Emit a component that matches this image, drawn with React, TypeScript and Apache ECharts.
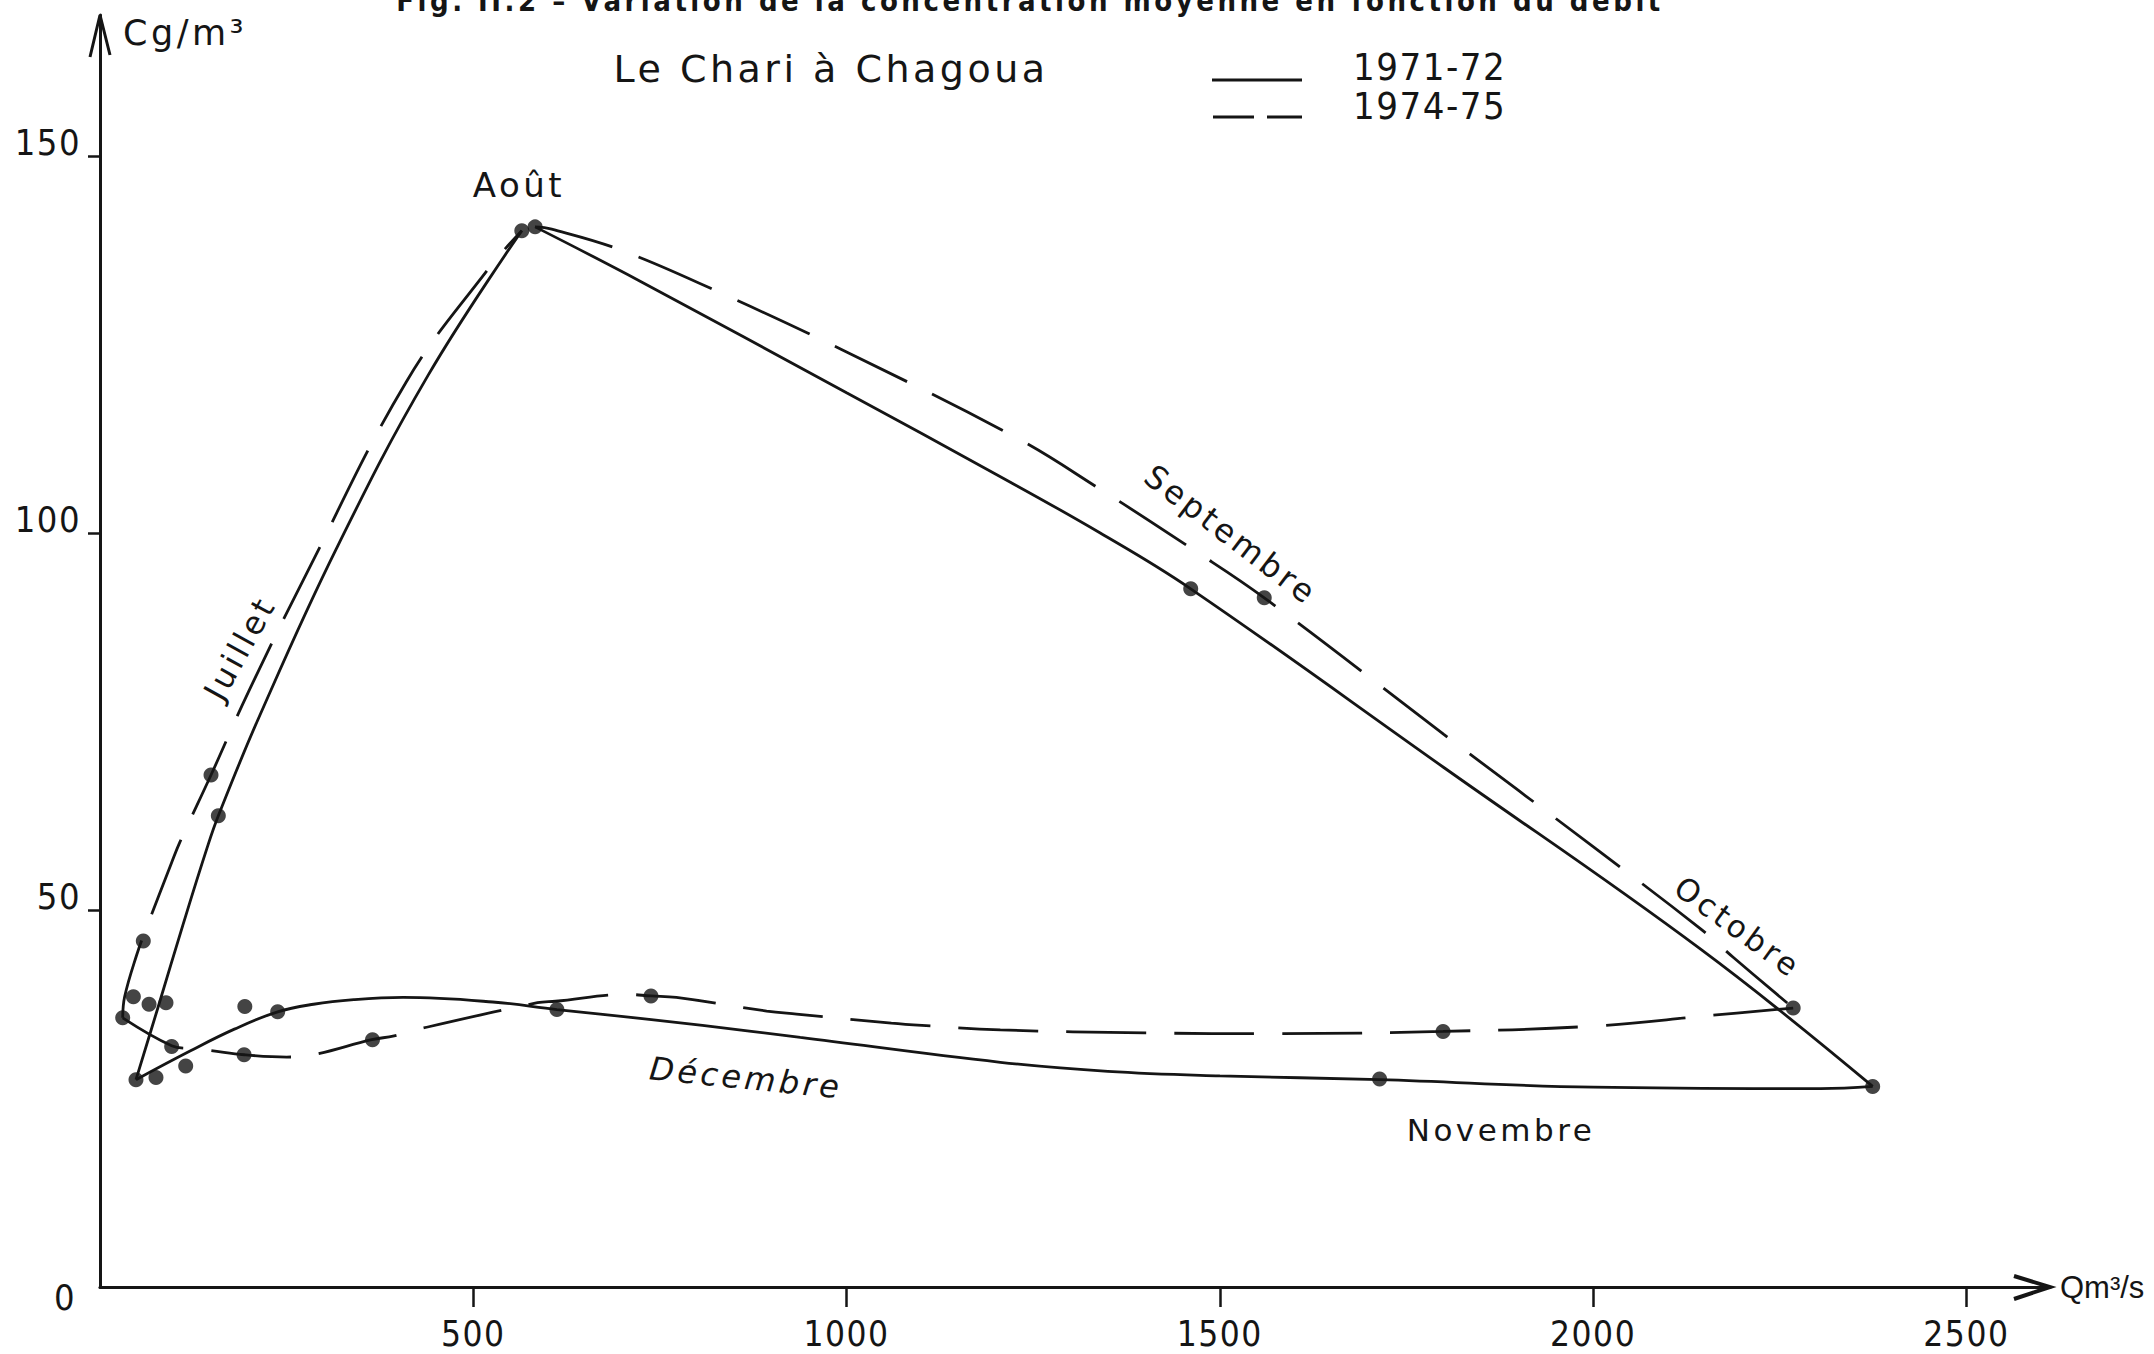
import React, { useEffect, useRef } from "react";
import * as echarts from "echarts";

// ---- tick labels ----
const xTicks = [500, 1000, 1500, 2000, 2500];
const yTicks = [50, 100, 150];

// ---- measured points (Q m3/s, C g/m3) ----
const dots: [number, number][] = [
  [565, 140.1], [582.8, 140.6], [1461, 92.6], [1559.5, 91.4], [2268, 37.0], [2374.5, 26.6],
  [1714, 27.6], [1799, 33.9], [738, 38.6], [612, 36.8], [365, 32.8], [238, 36.5], [193, 30.8],
  [194, 37.2], [114.8, 29.3], [96, 31.9], [88.4, 37.7], [65.7, 37.5], [44.7, 38.5], [30.4, 35.7],
  [48.2, 27.5], [75, 27.8], [58, 45.9], [158.5, 62.5], [148.7, 67.9],
];

// ---- 1971-72 curve (solid) ----
const solidJuly: [number, number][] = [
  [48.2, 27.5], [79, 37.5], [111, 48], [143, 58.1], [158.5, 62.5], [214, 75.8], [317, 98],
  [440, 121], [565, 140.1],
];
const solidSept: [number, number][] = [
  [582.8, 140.6], [723.5, 133.4], [1000, 118.6], [1200, 107.8], [1339.8, 100.0],
  [1461, 92.6], [1800, 68.9], [2144, 44.8], [2374.5, 26.6],
];
const solidReturn: [number, number][] = [
  [2374.5, 26.6], [2305, 26.3], [2000, 26.5], [1714, 27.5], [1500, 28.0], [1350, 28.6],
  [1206, 29.8], [938, 33.1], [807, 34.7], [670, 36.2], [612, 36.8], [526, 37.8], [406, 38.4],
  [340, 38.1], [286, 37.5], [238, 36.5], [180, 34.2], [120.6, 31.3], [48.2, 27.5],
];

// ---- 1974-75 curve (dashed) ----
const dashedJuly: [number, number][] = [
  [30.4, 35.7], [33, 38.5], [49, 44], [62.5, 47.7], [96, 56.3], [107, 59], [148.7, 67.9],
  [198.7, 78.9], [274.6, 94.2], [410, 120], [520, 135], [565, 140.1],
];
const dashedSept: [number, number][] = [
  [582.8, 140.6], [605, 140.3], [701, 137.4], [850, 131], [1000, 124],
  [1228, 112.6], [1339.8, 105.8], [1462.6, 97.9], [1559.5, 91.4], [1800, 73.3], [2000, 58.4],
  [2144, 47.5], [2188, 43.7], [2268, 37.0],
];
const dashedReturn: [number, number][] = [
  [2268, 37.0], [2156, 36.0], [2000, 34.6], [1799, 33.9], [1579, 33.6], [1400, 33.7],
  [1206, 34.1], [1101, 34.7], [1060, 35.0], [933, 36.2], [893, 36.6], [772, 38.4], [738, 38.6],
  [706, 38.8], [610, 37.9], [586, 37.7], [418, 34.0], [394, 33.3], [364, 32.8], [286, 30.8],
  [250, 30.5], [193, 30.8], [145, 31.4], [120.6, 31.6], [96, 32.0], [30.4, 35.7],
];

const FIG_TITLE = "Fig. II.2 – Variation de la concentration moyenne en fonction du débit";
const SUBTITLE = "Le Chari à Chagoua";
const LEGEND = ["1971-72", "1974-75"];

const W = 2154;
const H = 1354;
const GRID = { left: 100, right: 104, top: 15, bottom: 67 };
const X_MAX = 2612;
const Y_MAX = 168.7;

const css = `
#chartroot text[style*="DejaVu Sans"] { letter-spacing: 3.5px; }
#chartroot text[style*="Narrow"] { letter-spacing: 1.5px; }
`;

export default function App() {
  const ref = useRef<HTMLDivElement>(null);

  useEffect(() => {
    const chart = echarts.init(ref.current!, null, { renderer: "svg", width: W, height: H });
    const ink = "#151515";
    const wordFont = "'DejaVu Sans'";
    const numFont = "'Liberation Sans Narrow', 'DejaVu Sans Condensed'";

    const lineSeries = (name: string, data: [number, number][], dashed: boolean) => ({
      type: "line",
      name,
      data,
      smooth: 0.4,
      symbol: "none",
      showSymbol: false,
      silent: true,
      clip: false,
      lineStyle: { color: ink, width: 2.8, type: dashed ? [80, 28] : "solid", cap: "butt" },
      z: 2,
    });

    const ox = GRID.left;
    const oy = H - GRID.bottom;
    const xEnd = W - GRID.right;
    const yEnd = GRID.top;

    const word = (text: string, x: number, y: number, fontSize: number, rotation = 0, extra: any = {}) => ({
      type: "text",
      x,
      y,
      rotation,
      z: 10,
      style: {
        text,
        fontSize,
        fontFamily: wordFont,
        fill: ink,
        align: "center",
        verticalAlign: "middle",
        ...extra,
      },
    });

    const option: any = {
      animation: false,
      backgroundColor: "#ffffff",
      grid: { ...GRID, containLabel: false, outerBoundsMode: "none" },
      xAxis: {
        type: "value",
        min: 0,
        max: X_MAX,
        axisLine: { show: true, onZero: false, lineStyle: { color: ink, width: 3.2 } },
        axisTick: { show: true, customValues: xTicks, length: 20, lineStyle: { color: ink, width: 2.5 } },
        axisLabel: {
          show: true,
          customValues: xTicks,
          margin: 29,
          fontSize: 35,
          fontFamily: numFont,
          color: ink,
          formatter: (v: number) => String(v),
        },
        splitLine: { show: false },
        name: "Qm³/s",
        nameLocation: "end",
        nameGap: 10,
        nameTextStyle: {
          fontSize: 31,
          fontFamily: "'Liberation Sans'",
          color: ink,
          align: "left",
          verticalAlign: "middle",
          padding: [0, 0, 18, 0],
        },
      },
      yAxis: {
        type: "value",
        min: 0,
        max: Y_MAX,
        axisLine: { show: true, onZero: false, lineStyle: { color: ink, width: 3 } },
        axisTick: { show: true, customValues: yTicks, length: 12, lineStyle: { color: ink, width: 2.5 } },
        axisLabel: {
          show: true,
          customValues: yTicks,
          margin: 19,
          fontSize: 36,
          lineHeight: 26,
          verticalAlign: "bottom",
          fontFamily: numFont,
          color: ink,
          formatter: (v: number) => String(v),
        },
        splitLine: { show: false },
        name: "Cg/m³",
        nameLocation: "end",
        nameGap: -18,
        nameTextStyle: {
          fontSize: 35,
          fontFamily: wordFont,
          color: ink,
          align: "left",
          verticalAlign: "middle",
          padding: [0, 0, 0, 23],
        },
      },
      series: [
        lineSeries(LEGEND[0], solidJuly, false),
        lineSeries(LEGEND[0], solidSept, false),
        lineSeries(LEGEND[0], solidReturn, false),
        lineSeries(LEGEND[1], dashedJuly, true),
        lineSeries(LEGEND[1], dashedSept, true),
        lineSeries(LEGEND[1], dashedReturn, true),
        {
          type: "scatter",
          name: "mesures",
          data: dots,
          symbol: "circle",
          symbolSize: 15,
          silent: true,
          itemStyle: { color: ink },
          z: 5,
        },
      ],
      graphic: [
        // axis arrows
        {
          type: "polyline",
          z: 10,
          shape: { points: [[ox - 10, yEnd + 42], [ox, yEnd], [ox + 10, yEnd + 40]] },
          style: { stroke: ink, lineWidth: 3, fill: null },
        },
        {
          type: "polyline",
          z: 10,
          shape: { points: [[xEnd - 36, oy - 11], [xEnd, oy], [xEnd - 36, oy + 12]] },
          style: { stroke: ink, lineWidth: 4, fill: null },
        },
        // origin label
        {
          type: "text",
          x: 76,
          y: 1297,
          z: 10,
          style: { text: "0", fontSize: 36, fontFamily: numFont, fill: ink, align: "right", verticalAlign: "middle" },
        },
        // cut-off figure title
        {
          type: "text",
          x: 1030,
          y: 15,
          z: 10,
          style: {
            text: FIG_TITLE,
            fontSize: 29,
            fontWeight: "bold",
            fontFamily: "'DejaVu Sans Condensed', 'DejaVu Sans'",
            fill: ink,
            align: "center",
            verticalAlign: "bottom",
          },
        },
        // subtitle + legend
        word(SUBTITLE, 831, 69, 38),
        { type: "line", z: 10, shape: { x1: 1212, y1: 80, x2: 1302, y2: 80 }, style: { stroke: ink, lineWidth: 3 } },
        { type: "line", z: 10, shape: { x1: 1213, y1: 117, x2: 1254, y2: 117 }, style: { stroke: ink, lineWidth: 3 } },
        { type: "line", z: 10, shape: { x1: 1267, y1: 117, x2: 1302, y2: 117 }, style: { stroke: ink, lineWidth: 3 } },
        {
          type: "text",
          x: 1353,
          y: 67,
          z: 10,
          style: { text: LEGEND[0], fontSize: 38, fontFamily: numFont, fill: ink, align: "left", verticalAlign: "middle" },
        },
        {
          type: "text",
          x: 1353,
          y: 106,
          z: 10,
          style: { text: LEGEND[1], fontSize: 38, fontFamily: numFont, fill: ink, align: "left", verticalAlign: "middle" },
        },
        // month annotations
        word("Août", 519, 185, 34),
        word("Juillet", 240, 648, 32, 1.065),
        word("Septembre", 1231, 535, 32, -0.651),
        word("Octobre", 1738, 927, 31, -0.63),
        word("Décembre", 746, 1078, 32, -0.1, { fontStyle: "italic" }),
        word("Novembre", 1501, 1130, 31),
      ],
    };

    chart.setOption(option);
    return () => chart.dispose();
  }, []);

  return (
    <div>
      <style>{css}</style>
      <div
        id="chartroot"
        ref={ref}
        style={{ position: "fixed", left: 0, top: 0, width: W, height: H, background: "#fff" }}
      />
    </div>
  );
}
